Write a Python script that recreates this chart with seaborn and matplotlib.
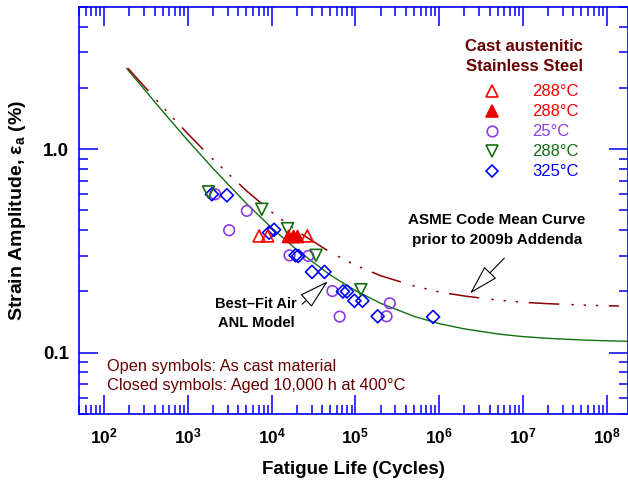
import numpy as np
import pandas as pd
import matplotlib
matplotlib.use("Agg")
import matplotlib.pyplot as plt
from matplotlib.lines import Line2D
from matplotlib.ticker import LogLocator, NullFormatter
import seaborn as sns

# ---------------- data ----------------
# ANL best-fit air model curve
anl_cycles = [185, 500, 1e3, 2e3, 5e3, 1e4, 2e4, 5e4, 1e5, 2e5, 5e5, 1e6,
              2e6, 5e6, 1e7, 2e7, 5e7, 1e8, 1.8e8]
anl_strain = [2.50, 1.534, 1.103, 0.803, 0.541, 0.411, 0.320, 0.241, 0.202,
              0.175, 0.151, 0.139, 0.131, 0.1237, 0.120, 0.1177, 0.1155,
              0.1145, 0.1138]
# ASME code mean curve prior to 2009b addenda
asme_cycles = [192, 500, 1e3, 2e3, 5e3, 1e4, 2e4, 5e4, 1e5, 2e5, 5e5, 1e6,
               2e6, 5e6, 1e7, 2e7, 5e7, 1e8, 1.4e8]
asme_strain = [2.50, 1.614, 1.190, 0.890, 0.625, 0.491, 0.396, 0.312, 0.269,
               0.239, 0.213, 0.199, 0.190, 0.1815, 0.177, 0.1742, 0.1716,
               0.1702, 0.1697]

# 288 C open red triangles
red_open_N = [7080, 8940, 26650]
red_open_e = [0.375, 0.375, 0.375]
# 288 C aged (closed red triangles)
red_fill_N = [15690, 17750, 20080]
red_fill_e = [0.373, 0.373, 0.373]
# 25 C purple circles
purple_N = [2115, 5050, 3105, 16340, 27370, 53200, 257800, 64800, 235500]
purple_e = [0.601, 0.498, 0.400, 0.301, 0.299, 0.201, 0.175, 0.1505, 0.151]
# 288 C green down triangles
green_N = [1760, 7620, 15470, 33830, 116300]
green_e = [0.617, 0.507, 0.407, 0.301, 0.204]
# 325 C blue diamonds
blue_N = [1932, 2916, 9310, 10680, 19270, 20800, 30300, 42720, 70970, 79180,
          97260, 121200, 184400, 845700]
blue_e = [0.601, 0.594, 0.389, 0.402, 0.301, 0.299, 0.2496, 0.2496, 0.200,
          0.200, 0.180, 0.180, 0.151, 0.150]

legend_labels = ["288°C", "288°C", "25°C", "288°C", "325°C"]
legend_title = "Cast austenitic\nStainless Steel"
x_ticks = [1e2, 1e3, 1e4, 1e5, 1e6, 1e7, 1e8]
x_tick_labels = ["$10^{2}$", "$10^{3}$", "$10^{4}$", "$10^{5}$", "$10^{6}$",
                 "$10^{7}$", "$10^{8}$"]
y_ticks = [0.1, 1.0]
y_tick_labels = ["0.1", "1.0"]

# ---------------- style ----------------
sns.set_theme(style="white")
plt.rcParams["font.family"] = ["Liberation Sans", "DejaVu Sans"]
plt.rcParams["mathtext.default"] = "regular"

RED = "#FF0000"
RED_FILL = "#E80000"
PURPLE = "#8C3CE6"
GREEN = "#136F13"
BLUE = "#0000FF"
MAROON = "#660000"
ASME_C = "#8B0000"

fig = plt.figure(figsize=(6.28, 4.82), dpi=100)
ax = fig.add_axes([79 / 628, 68 / 482, 549 / 628, 407 / 482])

# curves
sns.lineplot(x=anl_cycles, y=anl_strain, ax=ax, color=GREEN, lw=1.0,
             estimator=None, sort=False, zorder=2)
sns.lineplot(x=asme_cycles, y=asme_strain, ax=ax, color=ASME_C, lw=1.1,
             estimator=None, sort=False, zorder=2,
             linestyle=(0, (20, 8, 1.5, 6.5, 1.5, 6.5, 1.5, 7)))

mew = 1.2
sns.scatterplot(x=purple_N, y=purple_e, ax=ax, marker="o", s=58,
                facecolor="none", edgecolor=PURPLE, linewidth=mew, zorder=3)
sns.scatterplot(x=blue_N, y=blue_e, ax=ax, marker="D", s=44,
                facecolor="none", edgecolor=BLUE, linewidth=mew, zorder=4)
sns.scatterplot(x=green_N, y=green_e, ax=ax, marker="v", s=74,
                facecolor="none", edgecolor=GREEN, linewidth=mew, zorder=4)
sns.scatterplot(x=red_open_N, y=red_open_e, ax=ax, marker="^", s=74,
                facecolor="none", edgecolor=RED, linewidth=mew, zorder=5)
sns.scatterplot(x=red_fill_N, y=red_fill_e, ax=ax, marker="^", s=74,
                facecolor=RED_FILL, edgecolor=RED_FILL, linewidth=mew, zorder=5)

# axes
ax.set_xscale("log")
ax.set_yscale("log")
ax.set_xlim(50, 1.8e8)
ax.set_ylim(0.05, 5)
ax.set_xticks(x_ticks, labels=x_tick_labels, fontsize=12.5, fontweight="bold")
ax.set_yticks(y_ticks, labels=y_tick_labels, fontsize=13.5, fontweight="bold")
ax.xaxis.set_minor_locator(LogLocator(base=10, subs=np.arange(2, 10), numticks=20))
ax.yaxis.set_minor_locator(LogLocator(base=10, subs=np.arange(2, 10), numticks=20))
ax.xaxis.set_minor_formatter(NullFormatter())
ax.yaxis.set_minor_formatter(NullFormatter())
ax.tick_params(which="both", direction="in", top=True, right=True,
               bottom=True, left=True, color=BLUE, width=1.1,
               labelcolor="black")
ax.tick_params(which="major", length=13.5)
ax.tick_params(which="minor", length=6.5)
ax.tick_params(axis="x", which="major", pad=9)
ax.tick_params(axis="y", which="major", pad=7)
for sp in ax.spines.values():
    sp.set_color(BLUE)
    sp.set_linewidth(1.2)
ax.grid(False)

ax.set_xlabel("Fatigue Life (Cycles)", fontsize=13.5, fontweight="bold",
              color="black")
ax.set_ylabel("Strain Amplitude, ε$_{a}$ (%)", fontsize=14,
              fontweight="bold", color="black")
ax.xaxis.set_label_coords(0.5, -0.116)
ax.yaxis.set_label_coords(-0.093, 0.5)

# legend
handles = [
    Line2D([], [], ls="", marker="^", ms=8.6, mfc="none", mec=RED, mew=mew),
    Line2D([], [], ls="", marker="^", ms=8.6, mfc=RED_FILL, mec=RED_FILL, mew=mew),
    Line2D([], [], ls="", marker="o", ms=7.6, mfc="none", mec=PURPLE, mew=mew),
    Line2D([], [], ls="", marker="v", ms=8.6, mfc="none", mec=GREEN, mew=mew),
    Line2D([], [], ls="", marker="D", ms=6.6, mfc="none", mec=BLUE, mew=mew),
]
leg = ax.legend(handles, legend_labels, loc="upper left",
                bbox_to_anchor=(0.7092, 0.826), frameon=False, fontsize=12,
                handlelength=2.0, handletextpad=1.45, labelspacing=0.3,
                borderaxespad=0, borderpad=0.4)
for t, c in zip(leg.get_texts(), [RED, RED, PURPLE, GREEN, BLUE]):
    t.set_color(c)
ax.text(0.8106, 0.878, legend_title, transform=ax.transAxes, ha="center",
        va="center", fontsize=12, fontweight="bold", color=MAROON,
        linespacing=1.4)

# annotations
ax.text(4.9e6, 0.40, "ASME Code Mean Curve\nprior to 2009b Addenda",
        ha="center", va="center", fontsize=11, fontweight="bold",
        color="black", linespacing=1.55)
ax.annotate("", xy=(2.21e6, 0.191), xytext=(6.34e6, 0.2986),
            arrowprops=dict(arrowstyle="-|>,head_length=1.6,head_width=0.45",
                            fc="white", ec="black", lw=0.8))
ax.text(6520, 0.1555, "Best\u2013Fit Air\nANL Model", ha="center", va="center",
        fontsize=10.5, fontweight="bold", color="black", linespacing=1.45)
ax.annotate("", xy=(49700, 0.2294), xytext=(21800, 0.1695),
            arrowprops=dict(arrowstyle="-|>,head_length=1.6,head_width=0.45",
                            fc="white", ec="black", lw=0.8))

ax.text(0.051, 0.116, "Open symbols: As cast material", transform=ax.transAxes,
        ha="left", va="center", fontsize=11.8, color=MAROON)
ax.text(0.051, 0.069, "Closed symbols: Aged 10,000 h at 400°C",
        transform=ax.transAxes, ha="left", va="center", fontsize=11.8,
        color=MAROON)

fig.savefig("out.png", dpi=100)
